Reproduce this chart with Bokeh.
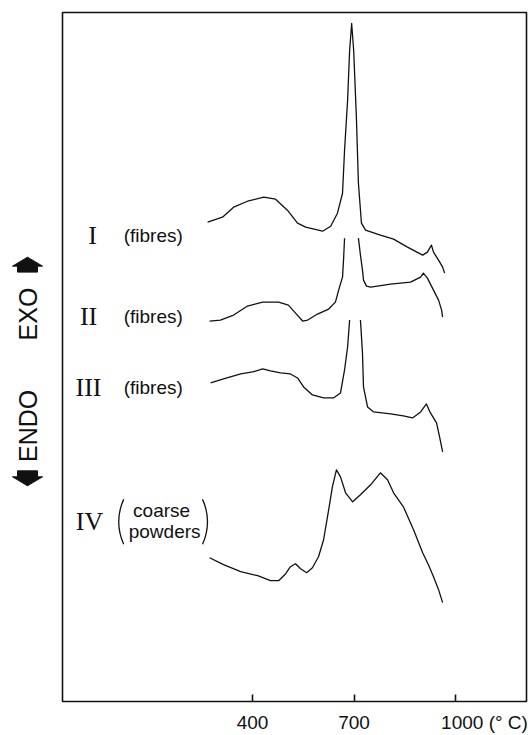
import math
from bokeh.plotting import figure
from bokeh.layouts import row
from bokeh.models import Range1d, FixedTicker, ColumnDataSource
from bokeh.core.properties import value
from bokeh.embed import file_html
from bokeh.resources import INLINE

nan = float("nan")

# ---- data: temperature (deg C) vs DTA signal (arbitrary units, offset per curve)
t_I = [267, 311, 344, 385, 433, 468, 503, 533, 557, 607, 631, 651, 666, 672, 681, 687, 693, 699,
       707, 713, 722, 734, 778, 817, 858, 903, 917, 929, 935, 950, 962, 968]
s_I = [480, 485, 495, 501, 505, 503, 492, 479, 475, 471, 476, 489, 509, 552, 602, 652, 679, 652,
       585, 519, 479, 472, 467, 463, 455, 447, 450, 457, 450, 442, 435, 429]

t_II = [273, 305, 344, 385, 430, 477, 506, 527, 548, 563, 592, 625, 645, 657, 666, 669, 672, nan,
        713, 719, 725, 728, 737, 749, 808, 867, 897, 905, 917, 935, 950, 959, 962]
s_II = [381, 382, 387, 396, 400, 400, 397, 389, 381, 382, 388, 393, 400, 415, 425, 442, 464, nan,
        464, 447, 432, 422, 416, 415, 418, 420, 425, 429, 424, 412, 402, 392, 385]

t_III = [276, 314, 365, 400, 430, 453, 483, 512, 533, 551, 577, 610, 639, 660, 672, 681, 687, nan,
         719, 725, 728, 740, 758, 808, 846, 873, 897, 914, 926, 944, 953, 962]
s_III = [319, 323, 328, 330, 333, 331, 329, 328, 324, 315, 307, 304, 304, 309, 332, 355, 382, nan,
         382, 349, 315, 295, 290, 288, 286, 284, 290, 298, 289, 279, 265, 250]

t_IV = [273, 314, 365, 415, 453, 477, 498, 512, 527, 542, 560, 577, 595, 610, 625, 636, 648, 660,
        675, 696, 719, 749, 778, 799, 817, 846, 876, 903, 920, 935, 950, 962]
s_IV = [144, 137, 130, 126, 121, 121, 128, 135, 138, 133, 129, 134, 145, 162, 192, 215, 232, 225,
        209, 200, 207, 217, 229, 222, 209, 195, 172, 149, 137, 125, 112, 99]

x_ticks = [400, 700, 1000]
x_unit = "(° C)"

# curve labels
numerals = ["I", "II", "III", "IV"]
numeral_x = [-73, -85, -85, -82]
numeral_y = [467, 386, 314, 180]

notes = ["(fibres)", "(fibres)", "(fibres)", "coarse", "powders"]
note_x = [19, 19, 19, 131, 140]
note_y = [467, 386, 314, 191, 170]
note_align = ["left", "left", "left", "center", "center"]

# side legend: EXO (up) / ENDO (down)
side_words = ["EXO", "ENDO"]
side_word_y = [421, 309]
arrow_xs = [[27, 42, 37, 37, 17, 17, 12], [27, 42, 37, 37, 17, 17, 12]]
arrow_ys = [[478, 469, 469, 463, 463, 469, 469], [249, 258, 258, 264, 264, 258, 258]]

INK = "#111111"

# ---- left strip with the EXO / ENDO indicator (frame aligned with the main frame)
side = figure(width=60, height=735, x_range=Range1d(0, 60), y_range=Range1d(33, 723),
              output_backend="svg", toolbar_location=None, x_axis_type=None, y_axis_type=None,
              min_border=0)
side.grid.visible = False
side.outline_line_color = None
side.patches(arrow_xs, arrow_ys, fill_color=INK, line_color=INK, line_width=1)
side.text(x=[27, 27], y=side_word_y, text=side_words, angle=math.pi / 2,
          text_font=value("Liberation Sans"), text_font_size="25px",
          text_align="center", text_baseline="middle", text_color=INK)

# ---- main plot
p = figure(width=468, height=735, x_range=Range1d(-162, 1210), y_range=Range1d(0, 690),
           output_backend="svg", toolbar_location=None,
           min_border_left=2, min_border_right=2, min_border_top=12, min_border_bottom=33)
p.grid.visible = False
p.background_fill_color = "white"
p.border_fill_color = "white"
p.outline_line_color = INK
p.outline_line_width = 1.6
p.yaxis.visible = False

for t, s in [(t_I, s_I), (t_II, s_II), (t_III, s_III), (t_IV, s_IV)]:
    p.line(t, s, line_color=INK, line_width=1.3, line_join="round")

src_num = ColumnDataSource(dict(x=numeral_x, y=numeral_y, text=numerals))
p.text(x="x", y="y", text="text", source=src_num, text_font=value("Liberation Serif"),
       text_font_size="26px", text_align="center", text_baseline="middle", text_color=INK)

src_note = ColumnDataSource(dict(x=note_x, y=note_y, text=notes, align=note_align))
p.text(x="x", y="y", text="text", source=src_note, text_font=value("Liberation Sans"),
       text_font_size="19px", text_align="align", text_baseline="middle", text_color=INK)

# large parentheses around "coarse / powders"
half = math.radians(25)
p.arc(x=[161], y=[180], radius=53, radius_units="screen",
      start_angle=math.pi - half, end_angle=math.pi + half, line_color=INK, line_width=1.3)
p.arc(x=[110], y=[180], radius=53, radius_units="screen",
      start_angle=-half, end_angle=half, line_color=INK, line_width=1.3)

# x axis
xa = p.xaxis[0]
xa.ticker = FixedTicker(ticks=x_ticks)
xa.major_tick_in = 7
xa.major_tick_out = 0
xa.major_tick_line_width = 1.6
xa.major_tick_line_color = INK
xa.minor_tick_line_color = None
xa.axis_line_color = None
xa.major_label_text_font = "Liberation Sans"
xa.major_label_text_font_size = "19px"
xa.major_label_text_color = INK
xa.major_label_standoff = 10
nb = "\u00a0"
xa.major_label_overrides = {1000: nb * 11 + "1000 " + x_unit}

layout = row(side, p, spacing=0)
open("out.html", "w").write(file_html(layout, INLINE))
